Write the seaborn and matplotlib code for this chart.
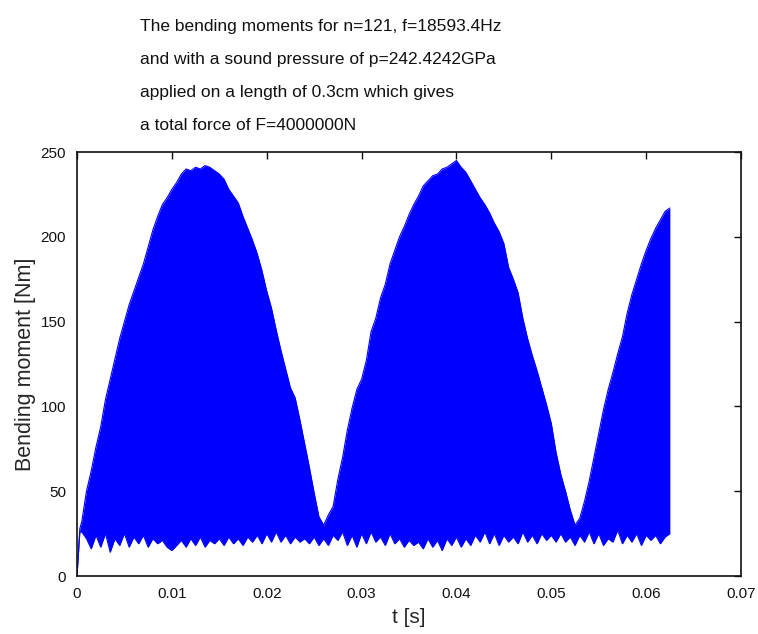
import numpy as np
import matplotlib
matplotlib.use("Agg")
import matplotlib.pyplot as plt
import seaborn as sns

# time grid (s), 0.5 ms steps, plus the start of the record
t_start = [0.0, 0.0003]
upper_start = [0, 28]
lower_start = [0, 26]

# upper envelope of the bending moment [Nm], read every 0.5 ms from 0.5 ms to 62.5 ms
upper = [32, 50, 62, 76, 88, 104, 116, 128, 140, 150,
         160, 168, 176, 184, 194, 204, 212, 219, 223, 228,
         232, 237, 240, 239, 241, 240, 242, 241, 239, 237,
         234, 228, 224, 220, 212, 205, 198, 190, 180, 168,
         158, 145, 133, 122, 111, 105, 92, 78, 64, 49,
         35, 30, 36, 41, 57, 70, 86, 99, 110, 116,
         127, 144, 152, 164, 172, 184, 192, 200, 206, 213,
         219, 224, 230, 233, 236, 237, 240, 241, 243, 245,
         241, 238, 233, 228, 223, 219, 214, 208, 203, 196,
         182, 175, 167, 152, 140, 130, 121, 111, 101, 90,
         73, 60, 50, 39, 30, 34, 44, 56, 70, 84,
         98, 110, 120, 131, 141, 155, 166, 175, 184, 192,
         199, 205, 210, 215, 217]

# lower envelope [Nm], same grid
lower = [26, 22, 16, 24, 17, 25, 14, 22, 18, 25,
         17, 23, 19, 24, 17, 22, 19, 21, 17, 15,
         18, 21, 17, 22, 18, 23, 17, 21, 19, 22,
         18, 23, 19, 22, 18, 23, 20, 24, 19, 25,
         20, 26, 20, 24, 19, 23, 20, 22, 19, 23,
         18, 22, 18, 24, 21, 26, 18, 24, 17, 25,
         19, 26, 20, 23, 18, 25, 19, 22, 17, 21,
         18, 20, 16, 22, 17, 21, 15, 22, 18, 23,
         17, 22, 18, 24, 20, 26, 19, 25, 18, 24,
         20, 23, 19, 26, 20, 24, 19, 25, 21, 24,
         20, 25, 20, 23, 18, 24, 20, 26, 19, 25,
         18, 22, 20, 27, 19, 24, 20, 25, 18, 24,
         21, 24, 19, 23, 25]

t = np.array(t_start + list(np.arange(1, len(upper) + 1) * 0.0005))
hi = np.array(upper_start + upper)
lo = np.array(lower_start + lower)

title_lines = ["The bending moments for n=121, f=18593.4Hz",
               "and with a sound pressure of p=242.4242GPa",
               "applied on a length of 0.3cm which gives",
               "a total force of F=4000000N"]

sns.set_style("white")
plt.rcParams['font.family'] = ['Liberation Sans', 'DejaVu Sans']

fig = plt.figure(figsize=(7.58, 6.34), dpi=100)
ax = fig.add_axes([77 / 758, 1 - 576 / 634, 664 / 758, 424 / 634])

blue = "#0000ff"
ax.fill_between(t, lo, hi, color=blue, linewidth=0)
sns.lineplot(x=t, y=hi, ax=ax, color=blue, linewidth=0.8)
sns.lineplot(x=t, y=lo, ax=ax, color=blue, linewidth=0.8)

ax.set_xlim(0, 0.07)
ax.set_ylim(0, 250)
ax.set_xticks(np.arange(0, 0.071, 0.01))
ax.set_xticklabels(["0", "0.01", "0.02", "0.03", "0.04", "0.05", "0.06", "0.07"])
ax.set_yticks(range(0, 251, 50))
ax.tick_params(direction="in", length=5, width=1, top=True, right=True,
               labelsize=11, colors="#111111", pad=8)
for s in ax.spines.values():
    s.set_visible(True)
    s.set_color("#111111")
    s.set_linewidth(1.2)

ax.set_xlabel("t [s]", fontsize=15, labelpad=5)
ax.set_ylabel("Bending moment [Nm]", fontsize=15.5, labelpad=3.5)

for i, line in enumerate(title_lines):
    fig.text(140 / 758, 1 - (30.7 + 33 * i) / 634, line, ha="left", va="baseline",
             fontsize=12.5, color="#111111")

fig.savefig("out.png", dpi=100)
